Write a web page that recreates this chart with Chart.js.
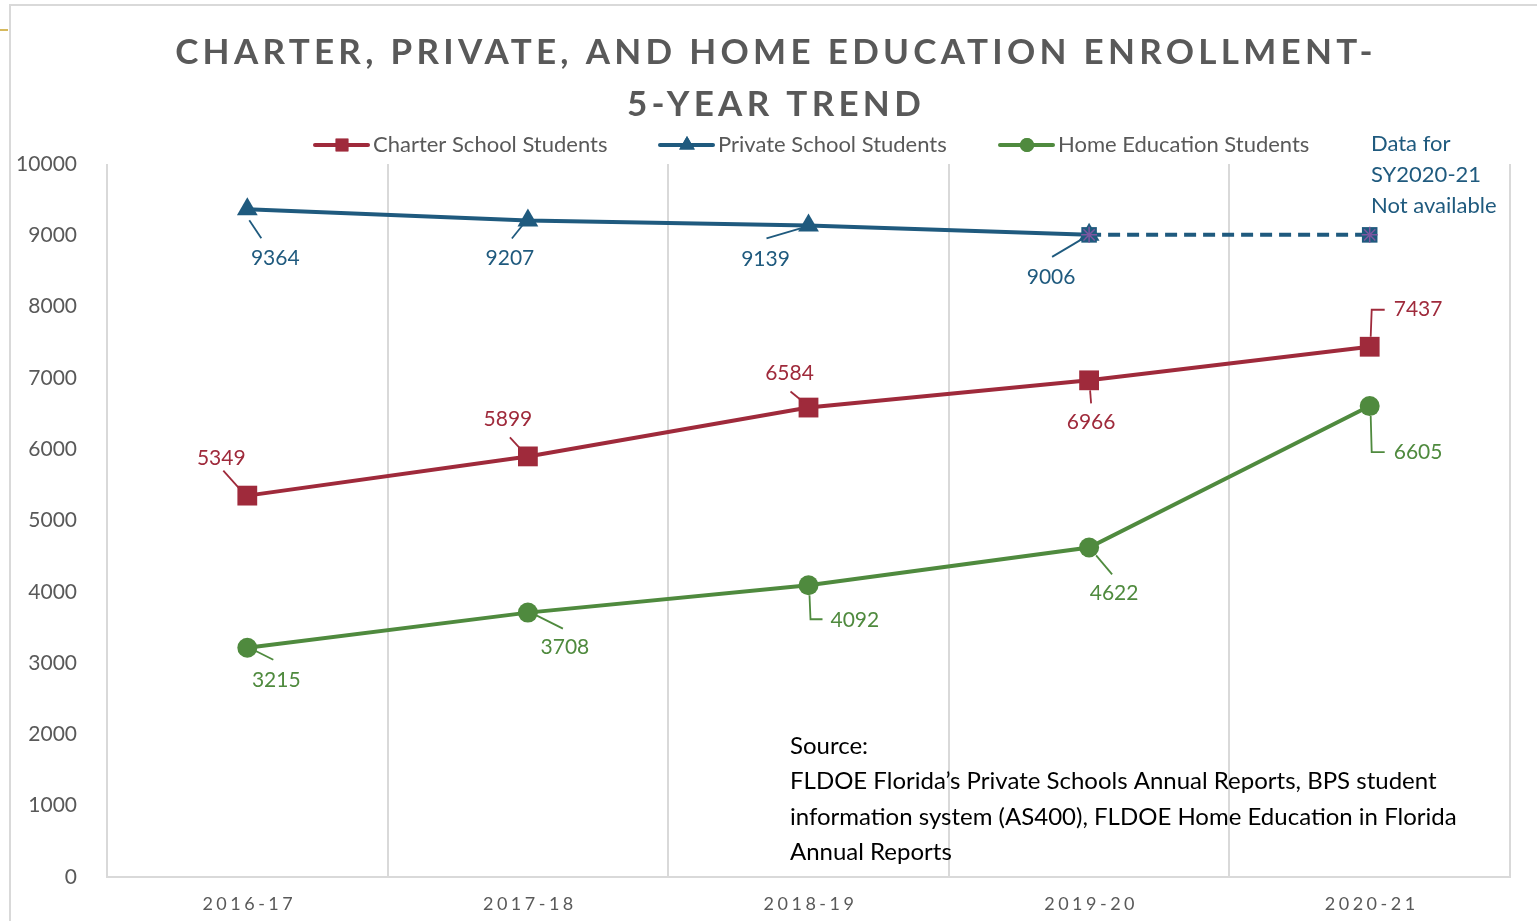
<!DOCTYPE html>
<html>
<head>
<meta charset="utf-8">
<script src="https://cdn.jsdelivr.net/npm/chart.js@4.4.1/dist/chart.umd.min.js"></script>
<style>
  html, body { margin: 0; padding: 0; background: #fff; }
  #wrap { width: 1537px; height: 921px; position: relative; }
</style>
</head>
<body>
<div id="wrap"><canvas id="enrollment"></canvas></div>
<script>
// school years on the x axis
var years = ['2016-17', '2017-18', '2018-19', '2019-20', '2020-21'];
var charterStudents = [5349, 5899, 6584, 6966, 7437];
var privateStudents = [9364, 9207, 9139, 9006, null];
// 2020-21 private figure not available, last value carried forward (dashed)
var privateCarried = [null, null, null, 9006, 9006];
var homeStudents = [3215, 3708, 4092, 4622, 6605];

var titleLines = ['CHARTER, PRIVATE, AND HOME EDUCATION ENROLLMENT-', '5-YEAR TREND'];
var noteLines = ['Data for', 'SY2020-21', 'Not available'];
var sourceLines = [
    'Source:',
    'FLDOE Florida\u2019s Private Schools Annual Reports, BPS student',
    'information system (AS400), FLDOE Home Education in Florida',
    'Annual Reports'
];

var RED = '#9f2a3b', BLUE = '#1f5a7e', GREEN = '#4f8a3e', GREY = '#595959';
var FONT = 'Lato, "Open Sans", sans-serif';

// label placement relative to the point: dx, dy, align, leader line points
var labelPlacement = {
    charter: [
        {dx: -26, dy: -37, leader: [[-24, -25], [-7, -6]]},
        {dx: -20, dy: -37, leader: [[-18, -19], [-7, -7]]},
        {dx: -19, dy: -34, leader: [[-18, -16], [-7, -7]]},
        {dx: 2, dy: 42, leader: [[2, 23], [1, 10]]},
        {dx: 24, dy: -38, align: 'left', leader: [[1, -10], [2, -37], [15, -37]]}
    ],
    private: [
        {dx: 28, dy: 49, leader: [[14, 29], [2, 11]]},
        {dx: -18, dy: 38, leader: [[-16, 18], [-4, 3]]},
        {dx: -43, dy: 34, leader: [[-42, 13], [-8, 3]]},
        {dx: -38, dy: 42, leader: [[-37, 22], [-5, 3]]}
    ],
    home: [
        {dx: 29, dy: 32, leader: [[26, 12], [8, 3]]},
        {dx: 37, dy: 35, leader: [[35, 16], [9, 3]]},
        {dx: 22, dy: 35, align: 'left', leader: [[1, 10], [2, 34], [14, 34]]},
        {dx: 25, dy: 46, leader: [[23, 27], [7, 8]]},
        {dx: 24, dy: 46, align: 'left', leader: [[1, 10], [2, 46], [15, 46]]}
    ]
};

var decorations = {
    id: 'decorations',
    beforeDraw: function(chart) {
        var ctx = chart.ctx;
        ctx.save();
        // outer frame
        ctx.strokeStyle = '#d9d9d9';
        ctx.lineWidth = 2;
        ctx.beginPath();
        ctx.moveTo(10, 921);
        ctx.lineTo(10, 5);
        ctx.lineTo(1537, 5);
        ctx.stroke();
        ctx.strokeStyle = '#c9a227';
        ctx.lineWidth = 1.5;
        ctx.beginPath();
        ctx.moveTo(0, 30);
        ctx.lineTo(8, 30);
        ctx.stroke();

        // title
        ctx.fillStyle = GREY;
        ctx.font = 'bold 35px ' + FONT;
        ctx.letterSpacing = '4.3px';
        ctx.textAlign = 'center';
        ctx.textBaseline = 'middle';
        ctx.fillText(titleLines[0], 776, 53);
        ctx.fillText(titleLines[1], 776, 105);

        // x tick labels, letter spaced
        var xs = chart.scales.x;
        ctx.font = '18px ' + FONT;
        ctx.letterSpacing = '3.5px';
        years.forEach(function(y, i) {
            ctx.fillText(y, xs.getPixelForValue(i) + 2, 904);
        });
        ctx.letterSpacing = '0px';

        // legend
        var items = [
            {text: 'Charter School Students', color: RED, style: 'rect', x: 315},
            {text: 'Private School Students', color: BLUE, style: 'triangle', x: 660},
            {text: 'Home Education Students', color: GREEN, style: 'circle', x: 1000}
        ];
        ctx.font = '22px ' + FONT;
        ctx.textAlign = 'left';
        items.forEach(function(it) {
            ctx.strokeStyle = it.color;
            ctx.fillStyle = it.color;
            ctx.lineWidth = 4;
            ctx.lineCap = 'round';
            ctx.beginPath();
            ctx.moveTo(it.x, 145);
            ctx.lineTo(it.x + 53, 145);
            ctx.stroke();
            Chart.helpers.drawPoint(ctx, {pointStyle: it.style, radius: it.style === 'circle' ? 7 : 9, rotation: 0, borderWidth: 0}, it.x + 27, 145);
            ctx.fill();
            ctx.fillStyle = GREY;
            ctx.fillText(it.text, it.x + 58, 145);
        });
        ctx.restore();
    },
    afterDatasetsDraw: function(chart) {
        var ctx = chart.ctx;
        ctx.save();
        ctx.font = '21px ' + FONT;
        ctx.textBaseline = 'middle';
        var groups = [
            {data: charterStudents, place: labelPlacement.charter, color: RED, idx: 3},
            {data: privateStudents, place: labelPlacement.private, color: BLUE, idx: 2},
            {data: homeStudents, place: labelPlacement.home, color: GREEN, idx: 4}
        ];
        groups.forEach(function(g) {
            var meta = chart.getDatasetMeta(g.idx);
            g.place.forEach(function(p, i) {
                if (g.data[i] === null) return;
                var pt = meta.data[i];
                ctx.strokeStyle = g.color;
                ctx.fillStyle = g.color;
                ctx.lineWidth = 1.8;
                ctx.beginPath();
                p.leader.forEach(function(l, k) {
                    if (k === 0) ctx.moveTo(pt.x + l[0], pt.y + l[1]);
                    else ctx.lineTo(pt.x + l[0], pt.y + l[1]);
                });
                ctx.stroke();
                ctx.textAlign = p.align || 'center';
                ctx.fillText(String(g.data[i]), pt.x + p.dx, pt.y + p.dy);
            });
        });

        // note about missing data
        ctx.fillStyle = BLUE;
        ctx.font = '22px ' + FONT;
        ctx.textAlign = 'left';
        noteLines.forEach(function(t, i) {
            ctx.fillText(t, 1371, 144 + i * 31);
        });

        // source
        ctx.fillStyle = '#000';
        ctx.font = '24px ' + FONT;
        sourceLines.forEach(function(t, i) {
            ctx.fillText(t, 790, 746 + i * 35.5);
        });
        ctx.restore();
    }
};

var chart = new Chart(document.getElementById('enrollment'), {
    type: 'line',
    data: {
        labels: years,
        datasets: [
            {
                label: 'carried marker',
                data: privateCarried,
                showLine: false,
                pointStyle: 'star',
                pointRadius: 8,
                pointBorderColor: '#7c56a0',
                pointBorderWidth: 1.5,
                pointBackgroundColor: 'transparent',
                order: 0
            },
            {
                label: 'carried',
                data: privateCarried,
                borderColor: BLUE,
                borderWidth: 4,
                borderDash: [12, 7],
                pointStyle: 'rect',
                pointRadius: 11,
                pointBackgroundColor: BLUE,
                pointBorderColor: BLUE,
                pointBorderWidth: 0,
                order: 1
            },
            {
                label: 'Private School Students',
                data: privateStudents,
                borderColor: BLUE,
                backgroundColor: BLUE,
                borderWidth: 4,
                pointStyle: 'triangle',
                pointRadius: 12,
                pointBorderWidth: 0,
                order: 2
            },
            {
                label: 'Charter School Students',
                data: charterStudents,
                borderColor: RED,
                backgroundColor: RED,
                borderWidth: 4,
                pointStyle: 'rect',
                pointRadius: 14,
                pointBorderWidth: 0,
                order: 3
            },
            {
                label: 'Home Education Students',
                data: homeStudents,
                borderColor: GREEN,
                backgroundColor: GREEN,
                borderWidth: 4,
                pointStyle: 'circle',
                pointRadius: 10,
                pointBorderWidth: 0,
                order: 4
            }
        ]
    },
    options: {
        responsive: true,
        maintainAspectRatio: false,
        animation: false,
        events: [],
        layout: {padding: {top: 164, right: 27, bottom: 0, left: 0}},
        plugins: {
            legend: {display: false},
            title: {display: false},
            tooltip: {enabled: false}
        },
        scales: {
            x: {
                offset: true,
                grid: {
                    offset: true,
                    color: '#d9d9d9',
                    lineWidth: 2,
                    drawTicks: false
                },
                border: {color: '#d9d9d9', width: 2},
                ticks: {color: 'transparent', font: {size: 18, family: FONT}},
                afterFit: function(scale) { scale.height = 921 - 877; }
            },
            y: {
                min: 0,
                max: 10000,
                ticks: {
                    stepSize: 1000,
                    color: GREY,
                    padding: 22,
                    font: {size: 21, family: FONT},
                    callback: function(v) { return String(v); }
                },
                grid: {display: false},
                border: {display: false},
                afterFit: function(scale) { scale.width = 107; }
            }
        }
    },
    plugins: [decorations]
});
</script>
</body>
</html>
